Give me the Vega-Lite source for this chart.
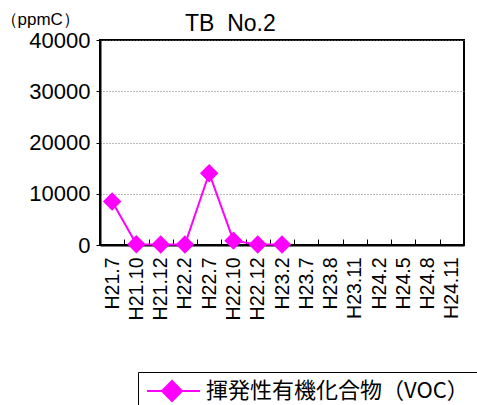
{
  "$schema": "https://vega.github.io/schema/vega-lite/v6.json",
  "autosize": "none",
  "width": 364,
  "height": 205,
  "padding": {"left": 100, "top": 40, "right": 13, "bottom": 160},
  "background": "white",
  "title": {
    "text": "TB\u00a0\u00a0No.2",
    "anchor": "start",
    "frame": "group",
    "dx": 85,
    "dy": 35,
    "offset": 9,
    "font": "Liberation Sans",
    "fontSize": 23,
    "fontWeight": "normal",
    "color": "black"
  },
  "config": {
    "view": {"stroke": "black", "strokeWidth": 2},
    "font": "Liberation Sans"
  },
  "data": {
    "values": [
      {"period": "H21.7", "value": 8500, "series": "揮発性有機化合物（VOC）"},
      {"period": "H21.10", "value": 150, "series": "揮発性有機化合物（VOC）"},
      {"period": "H21.12", "value": 80, "series": "揮発性有機化合物（VOC）"},
      {"period": "H22.2", "value": 80, "series": "揮発性有機化合物（VOC）"},
      {"period": "H22.7", "value": 14000, "series": "揮発性有機化合物（VOC）"},
      {"period": "H22.10", "value": 850, "series": "揮発性有機化合物（VOC）"},
      {"period": "H22.12", "value": 80, "series": "揮発性有機化合物（VOC）"},
      {"period": "H23.2", "value": 80, "series": "揮発性有機化合物（VOC）"}
    ]
  },
  "encoding": {
    "x": {
      "field": "period",
      "type": "ordinal",
      "sort": null,
      "scale": {
        "domain": ["H21.7", "H21.10", "H21.12", "H22.2", "H22.7", "H22.10", "H22.12", "H23.2", "H23.7", "H23.8", "H23.11", "H24.2", "H24.5", "H24.8", "H24.11"],
        "paddingInner": 0,
        "paddingOuter": 0
      },
      "axis": {
        "title": null,
        "labelAngle": -90,
        "labelFontSize": 19.5,
        "labelColor": "black",
        "labelPadding": 18,
        "tickBand": "extent",
        "tickSize": -6,
        "tickColor": "black",
        "tickWidth": 1,
        "domainColor": "black",
        "domainWidth": 2,
        "grid": false
      }
    },
    "y": {
      "field": "value",
      "type": "quantitative",
      "scale": {"domain": [0, 40000], "nice": false},
      "axis": {
        "title": "（ppmC）",
        "titleAngle": 0,
        "titleAlign": "left",
        "titleBaseline": "alphabetic",
        "titleX": -100,
        "titleY": -16,
        "titleFontSize": 17,
        "titleFontWeight": "normal",
        "titleColor": "black",
        "values": [0, 10000, 20000, 30000, 40000],
        "format": "d",
        "labelFontSize": 22,
        "labelColor": "black",
        "labelPadding": 6,
        "tickSize": 4,
        "tickColor": "black",
        "domainColor": "black",
        "domainWidth": 2,
        "grid": true,
        "gridColor": "#777777",
        "gridDash": [1, 2],
        "gridWidth": 1
      }
    },
    "color": {
      "field": "series",
      "type": "nominal",
      "scale": {"range": ["#ff00ff"]},
      "legend": {
        "title": null,
        "orient": "none",
        "legendX": 38,
        "legendY": 332,
        "direction": "vertical",
        "strokeColor": "black",
        "padding": 8,
        "symbolType": "M-1,0H4.3M1.5,-1L2.5,0L1.5,1L0.5,0Z",
        "symbolSize": 400,
        "symbolStrokeWidth": 2,
        "symbolFillColor": "#ff00ff",
        "symbolStrokeColor": "#ff00ff",
        "labelFont": "Noto Sans CJK JP",
        "labelFontSize": 22,
        "labelColor": "black",
        "labelOffset": 38,
        "labelLimit": 400,
        "encode": {
          "symbols": {
            "update": {
              "stroke": {"value": "#ff00ff"},
              "strokeWidth": {"value": 2},
              "fill": {"value": "#ff00ff"},
              "opacity": {"value": 1}
            }
          }
        }
      }
    }
  },
  "layer": [
    {"mark": {"type": "line", "strokeWidth": 2}},
    {"mark": {"type": "point", "shape": "diamond", "filled": true, "size": 340, "opacity": 1}}
  ]
}
